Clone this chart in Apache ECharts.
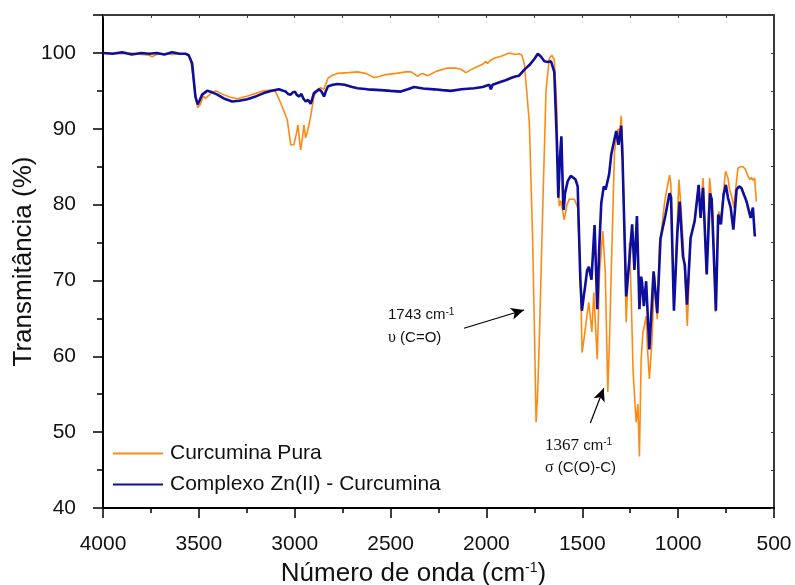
<!DOCTYPE html>
<html>
<head>
<meta charset="utf-8">
<script src="https://cdn.jsdelivr.net/npm/echarts@6/dist/echarts.min.js"></script>
<style>
  html, body { margin: 0; padding: 0; background: #fff; }
  #chart { width: 795px; height: 585px; }
</style>
</head>
<body>
<div id="chart"></div>
<script>
// wavenumbers (cm-1) and transmittance (%)
var pureX = [4000, 3900, 3850, 3800, 3760, 3744, 3720, 3680, 3640, 3600, 3561, 3544, 3528, 3515, 3506, 3492, 3478, 3465, 3440, 3413,
  3380, 3340, 3300, 3250, 3200, 3160, 3126, 3100, 3080, 3065, 3039, 3021, 3004, 2990, 2983, 2975, 2969, 2960, 2952, 2943,
  2931, 2917, 2900, 2880, 2865, 2848, 2838, 2826, 2800, 2777, 2720, 2673, 2630, 2586, 2560, 2534, 2470, 2420, 2394, 2375,
  2359, 2345, 2333, 2307, 2260, 2203, 2160, 2133, 2107, 2080, 2046, 2020, 2003, 1994, 1980, 1959, 1920, 1881, 1850, 1830,
  1815, 1802, 1790, 1776, 1759, 1750, 1741, 1733, 1724, 1706, 1689, 1672, 1659, 1646, 1633, 1625, 1620, 1612, 1594, 1580,
  1567, 1541, 1524, 1510, 1501, 1490, 1475, 1466, 1450, 1440, 1431, 1422, 1410, 1393, 1380, 1367, 1358, 1349, 1332, 1314,
  1305, 1297, 1290, 1283, 1271, 1262, 1254, 1245, 1235, 1219, 1210, 1202, 1193, 1184, 1176, 1167, 1160, 1150, 1137, 1123,
  1109, 1097, 1088, 1071, 1062, 1045, 1038, 1022, 1010, 996, 984, 970, 952, 935, 914, 893, 883, 870, 853, 836,
  818, 806, 789, 775, 763, 753, 740, 732, 720, 709, 698, 688, 675, 662, 650, 635, 625, 618, 610, 601, 592];
var pureT = [100, 99.9, 100, 99.8, 99.7, 99.5, 99.8, 99.9, 99.8, 99.9, 99.8, 99.3, 96.4, 94, 92.8, 93.2, 94.3, 94.0, 94.6, 95.0,
  94.6, 94.2, 93.95, 94.3, 94.7, 95.0, 95.1, 94.9, 93.8, 92.9, 91.2, 87.9, 87.9, 89.5, 90.5, 88.5, 87.2, 88.8, 90.5, 88.8,
  89.9, 91.6, 94.25, 95.2, 95.4, 95.2, 95.4, 96.7, 97.1, 97.3, 97.4, 97.5, 97.3, 96.75, 96.9, 97.1, 97.3, 97.5, 97.5, 97.2,
  96.9, 97.2, 97.3, 97.0, 97.6, 98.0, 98.0, 97.85, 97.4, 97.8, 98.2, 98.5, 98.9, 98.6, 99.0, 99.3, 99.6, 100, 99.8, 99.9,
  99.7, 98.5, 95, 90.7, 75.4, 64, 51.3, 55, 62.2, 79.8, 95.1, 99.3, 99.7, 99.1, 92.9, 82, 79.8, 80.5, 78.0, 80,
  80.75, 80.7, 79.6, 71, 60.5, 62.5, 65.5, 67.1, 63.2, 68.4, 64, 59.6, 71, 76.5, 71, 55.3, 62, 71, 87, 90,
  89, 91.7, 88, 79.3, 64.5, 70, 75, 68, 58, 51.3, 53.7, 46.8, 59.6, 63.1, 64.0, 65.3, 61, 57, 61.8, 70.6,
  64.9, 75, 76.3, 80.2, 81.6, 83.9, 82.8, 66.2, 74.1, 83.3, 79.3, 73.2, 64, 75.8, 78, 82.4, 79.5, 83.5, 71, 83.5,
  78.5, 65.8, 79.1, 78.3, 81.8, 84.4, 83.5, 82, 81, 79.6, 82.5, 84.8, 85, 85, 84.7, 83.7, 83.3, 83.6, 83.2, 83.5, 80.4];

var znX = [4000, 3950, 3900, 3850, 3800, 3760, 3720, 3680, 3640, 3600, 3570, 3553, 3535, 3518, 3506, 3495, 3483, 3457, 3430, 3404,
  3370, 3326, 3290, 3248, 3200, 3161, 3120, 3083, 3060, 3047, 3035, 3021, 3010, 2999, 2990, 2978, 2965, 2955, 2943, 2930,
  2917, 2910, 2900, 2873, 2860, 2847, 2837, 2826, 2800, 2777, 2740, 2700, 2673, 2620, 2551, 2500, 2447, 2410, 2377, 2330,
  2273, 2230, 2185, 2130, 2064, 2020, 1985, 1977, 1968, 1959, 1924, 1900, 1872, 1850, 1830, 1802, 1776, 1750, 1732, 1715,
  1698, 1680, 1663, 1646, 1633, 1625, 1617, 1609, 1600, 1597, 1590, 1576, 1560, 1550, 1535, 1524, 1518, 1510, 1502, 1492,
  1485, 1475, 1466, 1452, 1436, 1429, 1422, 1412, 1401, 1388, 1378, 1370, 1360, 1349, 1323, 1311, 1297, 1290, 1283, 1271,
  1262, 1254, 1240, 1228, 1215, 1208, 1202, 1193, 1188, 1179, 1167, 1150, 1136, 1128, 1109, 1092, 1080, 1067, 1045, 1037,
  1022, 1004, 992, 975, 965, 954, 935, 914, 893, 883, 870, 851, 834, 825, 803, 791, 777, 763, 751, 740,
  726, 712, 695, 683, 670, 660, 643, 622, 610, 600];
var znT = [100, 99.9, 100.1, 99.8, 100, 99.9, 100, 99.8, 100.1, 99.9, 99.9, 99.7, 98.6, 94.25, 93.2, 93.8, 94.5, 95.0, 94.8, 94.5,
  94.0, 93.6, 93.7, 93.9, 94.3, 94.7, 95.0, 95.2, 95.0, 94.9, 94.6, 94.5, 94.8, 94.9, 94.5, 94.25, 94.6, 94.0, 93.6, 93.8,
  93.3, 93.8, 94.7, 95.2, 94.9, 94.25, 95.0, 95.6, 95.8, 95.9, 95.8, 95.5, 95.35, 95.2, 95.1, 95.0, 94.9, 95.2, 95.5, 95.3,
  95.2, 95.1, 95.0, 95.2, 95.35, 95.5, 95.8, 95.2, 95.8, 96.0, 96.2, 96.4, 96.7, 96.9, 97.0, 97.8, 98.4, 99.2, 99.9, 99.5,
  98.9, 98.8, 98.9, 97.5, 88.5, 80.9, 86, 89.0, 80.5, 79.3, 81.5, 83.1, 83.8, 83.9, 83.3, 82.4, 77, 70, 66.0, 68,
  69.25, 71.3, 71.8, 70.1, 77.3, 72, 66.2, 74, 80.2, 82.4, 82, 82.1, 84, 86.6, 89.7, 87.9, 90.4, 86, 79.3, 67.9,
  70.5, 72.8, 77.4, 71.4, 78.5, 72, 66.2, 70.5, 69.7, 66.6, 69.9, 60.9, 67.5, 71.2, 65.7, 75.5, 77, 78.5, 81.5, 81.0,
  66, 76.3, 80.4, 73.2, 72, 66.8, 75.6, 77.8, 82.6, 78.25, 82.2, 70.8, 81.5, 80.7, 66, 78.7, 77.4, 81.3, 82.6, 80.9,
  79.6, 76.7, 82, 82.4, 82.2, 82, 80.4, 78.25, 79.6, 75.8];

var seriesNames = ['Curcumina Pura', 'Complexo Zn(II) - Curcumina'];
var xTicks = [4000, 3500, 3000, 2500, 2000, 1500, 1000, 500];
var yTicks = [40, 50, 60, 70, 80, 90, 100];

function zip(xs, ys) {
  var out = [];
  for (var i = 0; i < xs.length; i++) out.push([xs[i], ys[i]]);
  return out;
}

var font = '"Liberation Sans", Arial, sans-serif';
var serif = '"Liberation Serif", "Times New Roman", serif';

var chart = echarts.init(document.getElementById('chart'));
var option = {
  animation: false,
  backgroundColor: '#fff',
  textStyle: { fontFamily: font },
  grid: { left: 103, right: 21, top: 15, bottom: 77, outerBoundsMode: 'none' },
  legend: {
    data: seriesNames,
    orient: 'vertical',
    left: 108,
    top: 438,
    icon: 'rect',
    itemWidth: 50,
    itemHeight: 2,
    itemGap: 10,
    textStyle: { fontSize: 21, color: '#111', fontFamily: font, padding: [0, 0, 0, 2] }
  },
  xAxis: [{
    type: 'value',
    inverse: true,
    min: xTicks[xTicks.length - 1],
    max: xTicks[0],
    interval: 500,
    name: '{a|Número de onda (cm}{s|-1}{a|)}',
    nameLocation: 'middle',
    nameGap: 53,
    nameTextStyle: {
      padding: [0, 50, 0, 0],
      rich: {
        a: { fontSize: 26, color: '#111', fontFamily: font },
        s: { fontSize: 14, color: '#111', fontFamily: font, verticalAlign: 'top', padding: [0, 0, 10, 0] }
      }
    },
    axisLine: { lineStyle: { color: '#000', width: 2 } },
    axisTick: { inside: false, length: 10, lineStyle: { color: '#000', width: 1.5 } },
    minorTick: { show: true, splitNumber: 2, length: 5, lineStyle: { color: '#000', width: 1.5 } },
    axisLabel: {
      fontSize: 21, color: '#111', margin: 26, fontFamily: font,
      formatter: function (v) { return String(v); }
    },
    splitLine: { show: false }
  }, {
    type: 'value',
    position: 'top',
    inverse: true,
    min: 500,
    max: 4000,
    interval: 250,
    axisLine: { onZero: false, lineStyle: { color: '#3a3a3a', width: 2 } },
    axisTick: { inside: true, length: 3, lineStyle: { color: '#3a3a3a' } },
    axisLabel: { show: false },
    splitLine: { show: false }
  }],
  yAxis: [{
    type: 'value',
    min: yTicks[0],
    max: 105,
    interval: 10,
    name: 'Transmitância (%)',
    nameLocation: 'middle',
    nameGap: 66,
    nameMoveOverlap: false,
    nameTextStyle: { fontSize: 26, color: '#111', fontFamily: font },
    axisLine: { show: true, lineStyle: { color: '#000', width: 2 } },
    axisTick: { show: true, inside: false, length: 10, lineStyle: { color: '#000', width: 1.5 } },
    minorTick: { show: true, splitNumber: 2, length: 6, lineStyle: { color: '#000', width: 1.5 } },
    axisLabel: { fontSize: 21, color: '#111', margin: 27, showMaxLabel: false, fontFamily: font },
    splitLine: { show: false }
  }, {
    type: 'value',
    position: 'right',
    min: 40,
    max: 105,
    interval: 5,
    axisLine: { show: true, onZero: false, lineStyle: { color: '#3a3a3a', width: 2 } },
    axisTick: { show: true, inside: true, length: 3, lineStyle: { color: '#3a3a3a' } },
    axisLabel: { show: false },
    splitLine: { show: false }
  }],
  series: [{
    name: seriesNames[0],
    type: 'line',
    xAxisIndex: 0,
    yAxisIndex: 0,
    data: zip(pureX, pureT),
    symbol: 'none',
    color: '#FF8A12',
    lineStyle: { color: '#FF8A12', width: 1.6 },
    z: 2,
    markLine: {
      silent: true,
      symbol: ['none', 'arrow'],
      symbolSize: [9, 13],
      label: { show: false },
      lineStyle: { color: '#000', width: 1.2, type: 'solid' },
      emphasis: { disabled: true },
      data: [
        [{ coord: [2117, 63.7] }, { coord: [1804, 66.1] }],
        [{ coord: [1458, 51.2] }, { coord: [1388, 55.8] }]
      ]
    }
  }, {
    name: seriesNames[1],
    type: 'line',
    xAxisIndex: 0,
    yAxisIndex: 0,
    data: zip(znX, znT),
    symbol: 'none',
    color: '#0E0E9C',
    lineStyle: { color: '#0E0E9C', width: 2.6 },
    z: 3
  }],
  graphic: [{
    type: 'text', left: 388, top: 307,
    style: {
      text: '{a|1743 cm}{s|-1}',
      rich: {
        a: { fontSize: 15, fill: '#111', fontFamily: font },
        s: { fontSize: 10, fill: '#111', fontFamily: font, verticalAlign: 'top' }
      }
    }
  }, {
    type: 'text', left: 388, top: 330,
    style: {
      text: '{g|υ}{a| (C=O)}',
      rich: {
        g: { fontSize: 16, fill: '#111', fontFamily: serif },
        a: { fontSize: 15, fill: '#111', fontFamily: font }
      }
    }
  }, {
    type: 'text', left: 545, top: 437,
    style: {
      text: '{n|1367}{a| cm}{s|-1}',
      rich: {
        n: { fontSize: 17, fill: '#111', fontFamily: serif },
        a: { fontSize: 15, fill: '#111', fontFamily: font },
        s: { fontSize: 10, fill: '#111', fontFamily: font, verticalAlign: 'top' }
      }
    }
  }, {
    type: 'text', left: 545, top: 460,
    style: {
      text: '{g|σ}{a| (C(O)-C)}',
      rich: {
        g: { fontSize: 16, fill: '#111', fontFamily: serif },
        a: { fontSize: 15, fill: '#111', fontFamily: font }
      }
    }
  }]
};
chart.setOption(option);
</script>
</body>
</html>
